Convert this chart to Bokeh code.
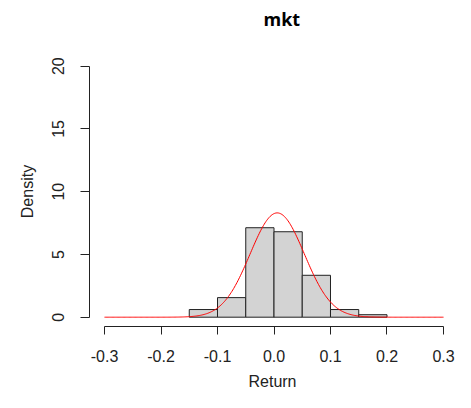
import numpy as np
from bokeh.plotting import figure
from bokeh.models import Range1d, FixedTicker, NumeralTickFormatter, Title
from bokeh.embed import file_html
from bokeh.resources import INLINE

# ---- data ----
bin_left = [-0.15, -0.10, -0.05, 0.00, 0.05, 0.10, 0.15]
bin_right = [-0.10, -0.05, 0.00, 0.05, 0.10, 0.15, 0.20]
density = [0.61, 1.56, 7.13, 6.81, 3.34, 0.61, 0.20]
curve_mean = 0.0057
curve_sd = 0.048
x_ticks = [-0.3, -0.2, -0.1, 0.0, 0.1, 0.2, 0.3]
y_ticks = [0, 5, 10, 15, 20]
title_text = "mkt"
x_label = "Return"
y_label = "Density"

FONT = "Liberation Sans"
INK = "#222222"

p = figure(width=455, height=392, output_backend="svg", toolbar_location=None,
           x_range=Range1d(-0.32655, 0.32124), y_range=Range1d(-0.741, 20.773),
           min_border_left=89, min_border_right=0, min_border_top=56, min_border_bottom=66,
           title_location=None)
p.outline_line_color = None
p.xgrid.visible = False
p.ygrid.visible = False
p.background_fill_color = "white"
p.border_fill_color = "white"

# spacer between frame and title (nearest the frame), then the title above it
p.add_layout(Title(text=" ", text_font=FONT, text_font_size="18px", standoff=0), "above")
p.add_layout(Title(text=title_text, align="left", offset=174, vertical_align="top",
                   standoff=4, text_font="Open Sans", text_font_size="18px",
                   text_font_style="bold", text_color="black"), "above")

# histogram bars
p.quad(left=bin_left, right=bin_right, bottom=0, top=density,
       fill_color="#D3D3D3", line_color=INK, line_width=1)

# normal density curve
xs = np.linspace(x_ticks[0], x_ticks[-1], 400)
ys = np.exp(-0.5 * ((xs - curve_mean) / curve_sd) ** 2) / (curve_sd * np.sqrt(2 * np.pi))
p.line(xs, ys, line_color="red", line_width=1)

# axes
for ax in (p.xaxis[0], p.yaxis[0]):
    ax.axis_line_color = INK
    ax.major_tick_line_color = INK
    ax.minor_tick_line_color = None
    ax.major_tick_in = 0
    ax.major_label_text_font = FONT
    ax.major_label_text_font_size = "16px"
    ax.major_label_text_color = INK
    ax.axis_label_text_font = FONT
    ax.axis_label_text_font_size = "16px"
    ax.axis_label_text_font_style = "normal"
    ax.axis_label_text_color = INK

xa = p.xaxis[0]
xa.ticker = FixedTicker(ticks=x_ticks)
xa.bounds = (x_ticks[0], x_ticks[-1])
xa.formatter = NumeralTickFormatter(format="0.0")
xa.major_tick_out = 8
xa.major_label_standoff = 15
xa.axis_label = x_label
xa.axis_label_standoff = 8

ya = p.yaxis[0]
ya.ticker = FixedTicker(ticks=y_ticks)
ya.bounds = (y_ticks[0], y_ticks[-1])
ya.major_tick_out = 9
ya.major_label_standoff = 16
ya.major_label_orientation = "vertical"
ya.axis_label = y_label
ya.axis_label_standoff = 14

open("out.html", "w").write(file_html(p, INLINE))
